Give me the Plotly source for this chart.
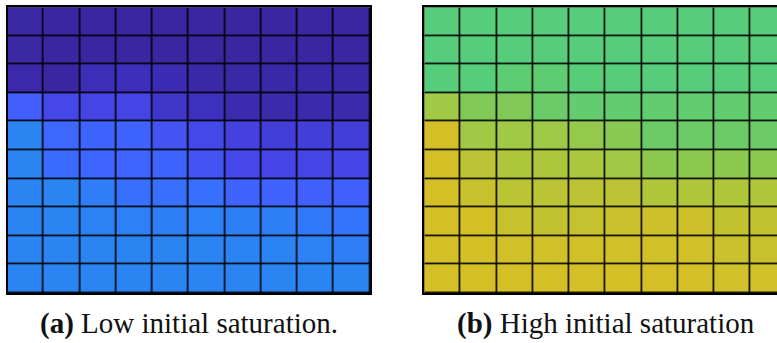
import plotly.graph_objects as go

# Saturation field on a 10 x 10 grid (row 0 = top layer)
sat_low = [
    [0.005, 0.0, 0.0, 0.0, 0.0, 0.0, 0.0, 0.0, 0.0, 0.0],
    [0.005, 0.0, 0.0, 0.0, 0.0, 0.0, 0.0, 0.0, 0.0, 0.0],
    [0.010, 0.0, 0.025, 0.030, 0.020, 0.008, 0.006, 0.006, 0.006, 0.006],
    [0.085, 0.062, 0.060, 0.060, 0.040, 0.032, 0.015, 0.012, 0.012, 0.012],
    [0.180, 0.100, 0.095, 0.092, 0.075, 0.063, 0.055, 0.050, 0.050, 0.050],
    [0.180, 0.110, 0.097, 0.097, 0.095, 0.075, 0.062, 0.060, 0.060, 0.060],
    [0.180, 0.180, 0.150, 0.120, 0.120, 0.120, 0.090, 0.090, 0.088, 0.088],
    [0.180, 0.180, 0.170, 0.160, 0.155, 0.160, 0.155, 0.155, 0.140, 0.130],
    [0.180, 0.180, 0.180, 0.180, 0.180, 0.180, 0.175, 0.175, 0.170, 0.150],
    [0.180, 0.180, 0.180, 0.180, 0.180, 0.180, 0.180, 0.180, 0.180, 0.180],
]

sat_high = [
    [0.60, 0.60, 0.60, 0.60, 0.60, 0.60, 0.60, 0.60, 0.60, 0.60],
    [0.60, 0.60, 0.60, 0.60, 0.60, 0.60, 0.60, 0.60, 0.60, 0.60],
    [0.60, 0.60, 0.635, 0.635, 0.61, 0.60, 0.60, 0.60, 0.60, 0.60],
    [0.85, 0.75, 0.75, 0.69, 0.65, 0.65, 0.65, 0.65, 0.65, 0.65],
    [1.00, 0.85, 0.85, 0.845, 0.82, 0.775, 0.70, 0.70, 0.70, 0.70],
    [1.00, 0.925, 0.895, 0.895, 0.88, 0.85, 0.80, 0.80, 0.80, 0.80],
    [1.00, 0.955, 0.925, 0.925, 0.93, 0.93, 0.90, 0.90, 0.90, 0.90],
    [1.00, 1.00, 0.955, 0.94, 0.95, 0.96, 0.97, 0.97, 0.94, 0.94],
    [1.00, 1.00, 0.99, 0.985, 0.99, 0.99, 0.99, 0.99, 0.96, 0.955],
    [1.00, 1.00, 1.00, 1.00, 1.00, 1.00, 1.00, 1.00, 0.985, 0.985],
]

captions = ["<b>(a)</b> Low initial saturation.", "<b>(b)</b> High initial saturation"]

# Shared colour map for saturation
colorscale = [
    [0.00, "#3a26a0"],
    [0.03, "#3d2fbc"],
    [0.06, "#4545e6"],
    [0.09, "#4062ff"],
    [0.12, "#3670fd"],
    [0.15, "#2f7df7"],
    [0.18, "#2a85f2"],
    [0.40, "#20b0c0"],
    [0.60, "#55cd7a"],
    [0.65, "#62cc6f"],
    [0.70, "#6dcb67"],
    [0.75, "#80c957"],
    [0.80, "#8ec94f"],
    [0.85, "#a0c945"],
    [0.90, "#b0c63b"],
    [0.95, "#c6c12f"],
    [1.00, "#d4c026"],
]

W, H = 777, 343
cell_w = 36.25
left_x0, left_x1 = 7.5, 370.0
right_x0 = 424.3
y_top, y_bot = 7.3, 293.3

fig = go.Figure()
for i, z in enumerate([sat_low, sat_high]):
    sfx = "" if i == 0 else "2"
    fig.add_trace(go.Heatmap(
        z=z, x=list(range(10)), y=list(range(10)),
        colorscale=colorscale, zmin=0, zmax=1,
        showscale=False, xgap=1.6, ygap=1.6,
        xaxis="x" + sfx, yaxis="y" + sfx, hoverinfo="skip",
    ))

ydom = [(H - y_bot) / H, (H - y_top) / H]
visible_cols = (W - right_x0) / cell_w

axis_common = dict(showgrid=False, zeroline=False, showticklabels=False, ticks="",
                   linecolor="black", linewidth=2, showline=True)

fig.update_layout(
    width=W, height=H,
    margin=dict(l=0, r=0, t=0, b=0),
    paper_bgcolor="white", plot_bgcolor="black",
    xaxis=dict(domain=[left_x0 / W, left_x1 / W], range=[-0.5, 9.5], mirror=True, anchor="y", **axis_common),
    yaxis=dict(domain=ydom, range=[9.5, -0.5], mirror=True, anchor="x", **axis_common),
    xaxis2=dict(domain=[right_x0 / W, 1.0], range=[-0.5, -0.5 + visible_cols], mirror=True, anchor="y2", **axis_common),
    yaxis2=dict(domain=ydom, range=[9.5, -0.5], mirror=False, anchor="x2", **axis_common),
)

centers = [(left_x0 + left_x1) / 2, right_x0 + 5 * cell_w]
for cx, text in zip(centers, captions):
    fig.add_annotation(
        text=text, xref="paper", yref="paper", x=cx / W, y=(H - 323) / H,
        xanchor="center", yanchor="middle", showarrow=False,
        font=dict(family="Liberation Serif, Times New Roman, serif", size=29, color="#111111"),
    )

fig.write_html("out.html")
